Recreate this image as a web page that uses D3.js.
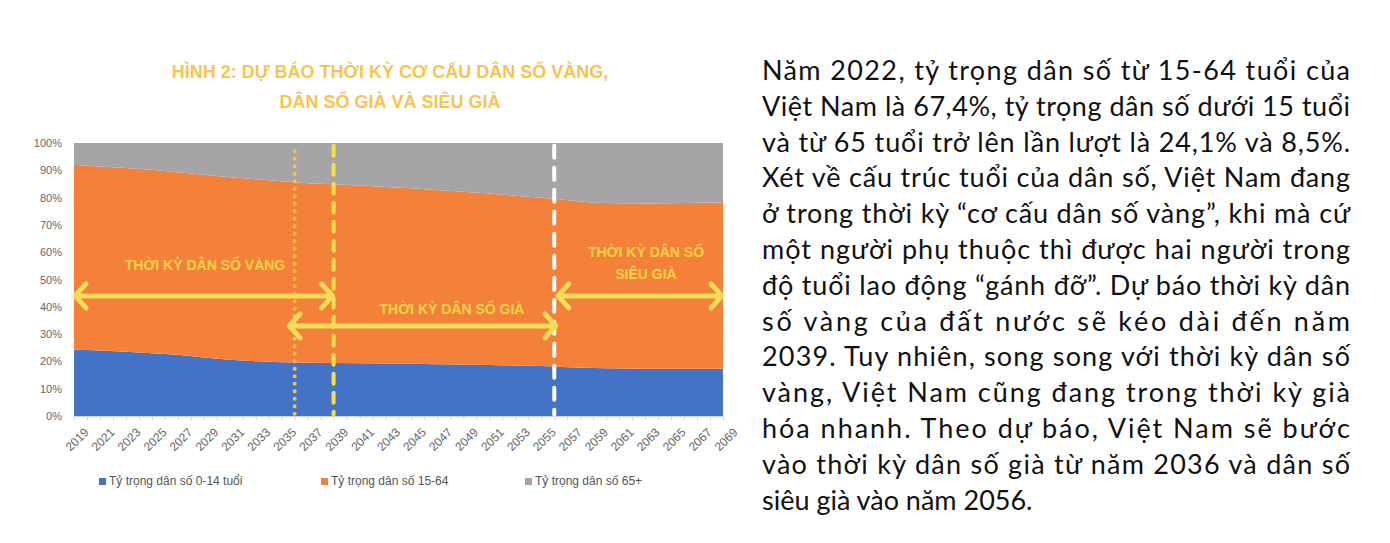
<!DOCTYPE html>
<html>
<head>
<meta charset="utf-8">
<script src="https://cdn.jsdelivr.net/npm/d3@7"></script>
<style>
body { margin: 0; background: #fff; }
text { font-family: "Liberation Sans", Arial, sans-serif; }
</style>
</head>
<body>
<script>
// data
const years = d3.range(2019, 2070, 2);
const young = [24.4, 24.0, 23.5, 23.0, 22.4, 21.4, 20.6, 20.1, 19.7, 19.5, 19.4, 19.3, 19.2, 19.1, 19.0, 18.9, 18.7, 18.5, 18.3, 17.9, 17.6, 17.4, 17.3, 17.3, 17.3, 17.3];
const upTo64 = [92.0, 91.4, 90.8, 90.2, 89.3, 88.4, 87.5, 86.7, 86.0, 85.3, 84.9, 84.4, 83.9, 83.4, 82.8, 82.1, 81.5, 80.7, 79.9, 79.1, 78.1, 77.9, 77.8, 77.9, 78.1, 78.3];
const working = upTo64.map((v, i) => +(v - young[i]).toFixed(1));
const elderly = upTo64.map(v => +(100 - v).toFixed(1));
const seriesNames = ["Tỷ trọng dân số 0-14 tuổi", "Tỷ trọng dân số 15-64", "Tỷ trọng dân số 65+"];
const colors = ["#4472C4", "#F4813A", "#A5A5A8"];
const yTicks = d3.range(0, 101, 10);
const textLines = [
  "Năm 2022, tỷ trọng dân số từ 15-64 tuổi của",
  "Việt Nam là 67,4%, tỷ trọng dân số dưới 15 tuổi",
  "và từ 65 tuổi trở lên lần lượt là 24,1% và 8,5%.",
  "Xét về cấu trúc tuổi của dân số, Việt Nam đang",
  "ở trong thời kỳ “cơ cấu dân số vàng”, khi mà cứ",
  "một người phụ thuộc thì được hai người trong",
  "độ tuổi lao động “gánh đỡ”. Dự báo thời kỳ dân",
  "số vàng của đất nước sẽ kéo dài đến năm",
  "2039. Tuy nhiên, song song với thời kỳ dân số",
  "vàng, Việt Nam cũng đang trong thời kỳ già",
  "hóa nhanh. Theo dự báo, Việt Nam sẽ bước",
  "vào thời kỳ dân số già từ năm 2036 và dân số",
  "siêu già vào năm 2056."
];

const W = 1390, H = 543;
const svg = d3.select("body").append("svg").attr("width", W).attr("height", H);

const x = d3.scaleLinear().domain([2019, 2069]).range([74, 723]);
const y = d3.scaleLinear().domain([0, 100]).range([416, 143]);

// title
const gold = "#F9C34F";
svg.selectAll(".title").data(["HÌNH 2: DỰ BÁO THỜI KỲ CƠ CẤU DÂN SỐ VÀNG,", "DÂN SỐ GIÀ VÀ SIÊU GIÀ"])
  .enter().append("text")
  .attr("x", 390).attr("y", (d, i) => 78 + i * 30)
  .attr("text-anchor", "middle").attr("fill", gold)
  .attr("font-size", 18).attr("font-weight", "bold").text(d => d);

// stacked areas
const rows = years.map((yr, i) => ({ year: yr, a: young[i], b: working[i], c: elderly[i] }));
const stack = d3.stack().keys(["a", "b", "c"])(rows);
const area = d3.area().x(d => x(d.data.year)).y0(d => y(d[0])).y1(d => y(d[1]));
svg.selectAll(".layer").data(stack).enter().append("path")
  .attr("d", area).attr("fill", (d, i) => colors[i]);

// axes
const yAxis = svg.append("g").attr("transform", "translate(74,0)")
  .call(d3.axisLeft(y).tickValues(yTicks).tickFormat(d => d + "%").tickSize(0).tickPadding(12));
yAxis.select(".domain").remove();
yAxis.selectAll("text").attr("fill", "#666").attr("font-size", 11);

const xAxis = svg.append("g").attr("transform", "translate(0,416)")
  .call(d3.axisBottom(x).tickValues(d3.range(2019, 2070, 1)).tickSize(4).tickFormat(d => (d - 2019) % 2 === 0 ? d : ""));
xAxis.selectAll("line, path").attr("stroke", "#d0d0d0");
xAxis.selectAll("text").attr("fill", "#666").attr("font-size", 12)
  .attr("text-anchor", "end").attr("transform", "translate(4,6) rotate(-45)");

// vertical markers
svg.append("line").attr("x1", x(2036)).attr("x2", x(2036)).attr("y1", y(97)).attr("y2", y(0.5))
  .attr("stroke", "#F9C04A").attr("stroke-width", 4).attr("stroke-linecap", "round").attr("stroke-dasharray", "0,7.5");
svg.append("line").attr("x1", x(2039)).attr("x2", x(2039)).attr("y1", y(99)).attr("y2", y(0.5))
  .attr("stroke", "#F6DD4E").attr("stroke-width", 4).attr("stroke-linecap", "round").attr("stroke-dasharray", "10,9");
svg.append("line").attr("x1", x(2056)).attr("x2", x(2056)).attr("y1", y(99)).attr("y2", y(0.5))
  .attr("stroke", "#fff").attr("stroke-width", 4).attr("stroke-linecap", "round").attr("stroke-dasharray", "12,10");

// arrows
const arrowC = "#F6DD58";
function arrow(x1, x2, yy) {
  const g = svg.append("g").attr("stroke", arrowC).attr("stroke-width", 5).attr("fill", "none").attr("stroke-linecap", "round").attr("stroke-linejoin", "round");
  g.append("line").attr("x1", x1 + 2).attr("x2", x2 - 2).attr("y1", yy).attr("y2", yy);
  g.append("path").attr("d", `M${x1 + 12},${yy - 12} L${x1 + 1},${yy} L${x1 + 12},${yy + 12}`);
  g.append("path").attr("d", `M${x2 - 12},${yy - 12} L${x2 - 1},${yy} L${x2 - 12},${yy + 12}`);
}
arrow(x(2019), x(2039), y(44));
arrow(x(2035.5), x(2056.2), y(33));
arrow(x(2056.2), x(2069), y(44));

const labels = [
  { t: "THỜI KỲ DÂN SỐ VÀNG", x: 205, y: 270 },
  { t: "THỜI KỲ DÂN SỐ GIÀ", x: 452, y: 314 },
  { t: "THỜI KỲ DÂN SỐ", x: 646, y: 257 },
  { t: "SIÊU GIÀ", x: 646, y: 279 }
];
svg.selectAll(".lab").data(labels).enter().append("text")
  .attr("x", d => d.x).attr("y", d => d.y).attr("text-anchor", "middle")
  .attr("fill", "#F8D348").attr("font-size", 14).attr("font-weight", "bold").text(d => d.t);

// legend
const leg = svg.selectAll(".leg").data(seriesNames).enter().append("g")
  .attr("transform", (d, i) => `translate(${[99, 321, 525][i]},485)`);
leg.append("rect").attr("width", 7).attr("height", 7).attr("y", -7).attr("fill", (d, i) => colors[i]);
leg.append("text").attr("x", 10).attr("fill", "#555").attr("font-size", 12).text(d => d);

// paragraph
svg.selectAll(".para").data(textLines).enter().append("text")
  .attr("x", 762).attr("y", (d, i) => 80 + i * 35.8)
  .attr("fill", "#111").attr("font-size", 27)
  .style("font-family", "Lato, 'Noto Sans', sans-serif")
  .attr("textLength", (d, i) => i < textLines.length - 1 ? 588 : null)
  .attr("lengthAdjust", "spacing")
  .text(d => d);
</script>
</body>
</html>
